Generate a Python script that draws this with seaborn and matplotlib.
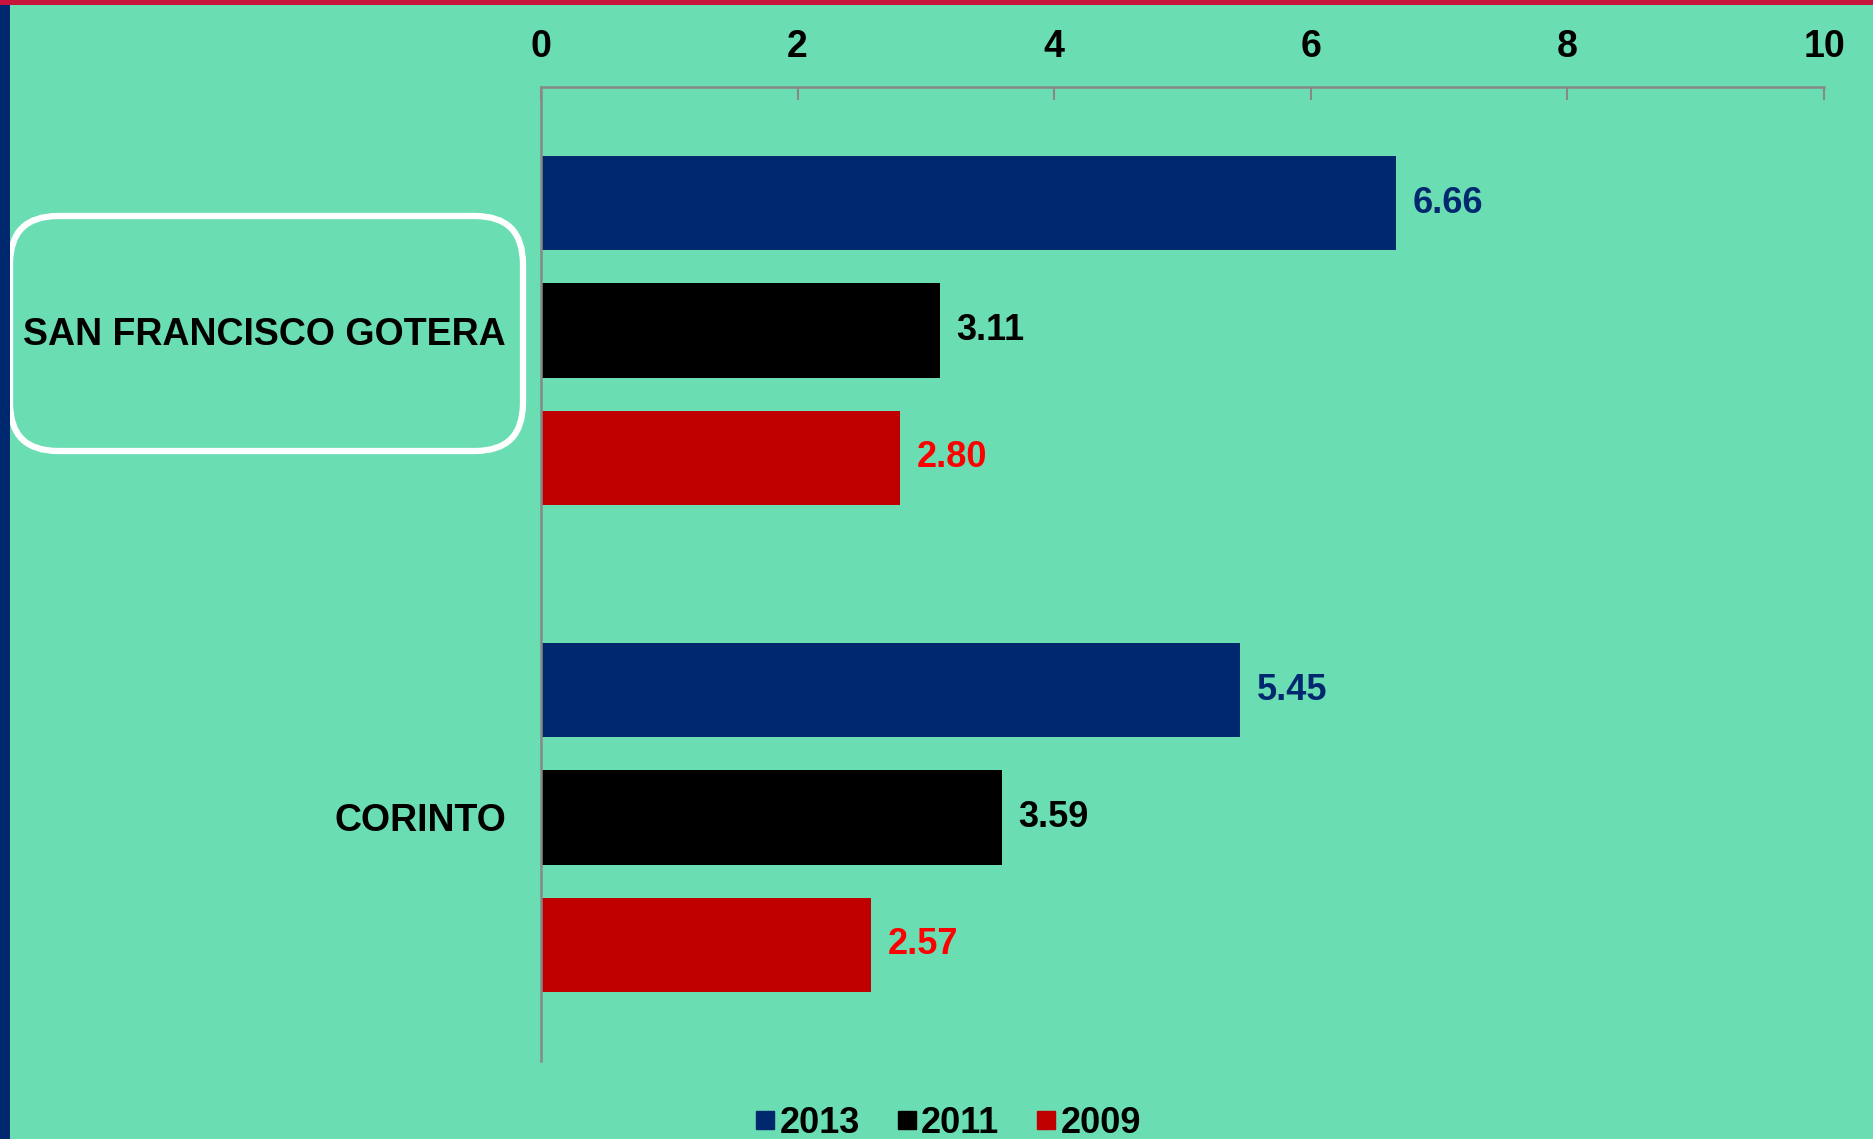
import matplotlib
matplotlib.use("Agg")
import matplotlib.pyplot as plt
import seaborn as sns
import pandas as pd
from matplotlib.patches import FancyBboxPatch, Rectangle
from matplotlib.lines import Line2D
from matplotlib.transforms import IdentityTransform

municipios = ["SAN FRANCISCO GOTERA", "CORINTO"]
anios = ["2013", "2011", "2009"]
valores_2013 = [6.66, 5.45]
valores_2011 = [3.11, 3.59]
valores_2009 = [2.80, 2.57]
x_ticks = [0, 2, 4, 6, 8, 10]

BG = "#6ADDB3"
NAVY = "#00286E"
BLACK = "#000000"
RED = "#C00000"
LABEL_COLORS = [NAVY, BLACK, "#FF0000"]

rows = []
for anio, vals in zip(anios, [valores_2013, valores_2011, valores_2009]):
    for m, v in zip(municipios, vals):
        rows.append({"municipio": m, "anio": anio, "valor": v})
df = pd.DataFrame(rows)

sns.set_theme(style="white")
plt.rcParams["font.family"] = ["Liberation Sans", "DejaVu Sans"]
plt.rcParams["font.weight"] = "bold"
plt.rcParams["text.color"] = "black"
plt.rcParams["xtick.color"] = "black"
plt.rcParams["ytick.color"] = "black"
plt.rcParams["xtick.labelcolor"] = "black"
plt.rcParams["ytick.labelcolor"] = "black"

fig = plt.figure(figsize=(18.73, 11.39), dpi=100, facecolor=BG)
ax = fig.add_axes([0.2888, 0.0685, 0.9739 - 0.2888, 0.9236 - 0.0685])
ax.set_facecolor(BG)

sns.barplot(data=df, y="municipio", x="valor", hue="anio", order=municipios,
            hue_order=anios, palette=[NAVY, BLACK, RED], orient="h",
            width=0.783, gap=0.26, saturation=1, legend=False, ax=ax,
            edgecolor="none", linewidth=0)

for cont, col in zip(ax.containers, LABEL_COLORS):
    ax.bar_label(cont, labels=[f"{v:.2f}" for v in cont.datavalues],
                 padding=12, color=col, fontsize=26, fontweight="bold")

ax.set_xlim(0, 10)
ax.set_ylim(1.5, -0.5)
ax.set_xticks(x_ticks)
ax.xaxis.tick_top()
ax.tick_params(axis="x", direction="in", length=9, width=1.5, color="#888888",
               labelcolor="black", pad=16, labelsize=27, top=True, bottom=False)
for lab in ax.get_xticklabels():
    lab.set_fontweight("bold")
ax.tick_params(axis="y", length=0, pad=25, labelsize=27, labelcolor="black")
for lab in ax.get_yticklabels():
    lab.set_fontweight("bold")
ax.set_xlabel("")
ax.set_ylabel("")
for s in ["right", "bottom"]:
    ax.spines[s].set_visible(False)
for s in ["top", "left"]:
    ax.spines[s].set_color("#888888")
    ax.spines[s].set_linewidth(1.8)
ax.grid(False)

# rounded box around first category label
box = FancyBboxPatch((10, 688), 513, 235, boxstyle="round,pad=0,rounding_size=48",
                     transform=IdentityTransform(), facecolor="none",
                     edgecolor="white", linewidth=4.5)
fig.add_artist(box)

# decorative strips
fig.add_artist(Rectangle((0, 0), 9.5 / 1873, 1, transform=fig.transFigure,
                         facecolor=NAVY, edgecolor="none"))
fig.add_artist(Rectangle((0, 1 - 5 / 1139), 1, 5 / 1139, transform=fig.transFigure,
                         facecolor="#C8143C", edgecolor="none"))

handles = [Line2D([0], [0], marker="s", linestyle="none", markersize=13,
                  markerfacecolor=c, markeredgecolor=c) for c in [NAVY, BLACK, RED]]
leg = fig.legend(handles, anios, loc="lower center", bbox_to_anchor=(0.506, -0.030),
                 ncol=3, frameon=False, handletextpad=0.1, columnspacing=1.0,
                 handlelength=0.6, prop={"size": 26, "weight": "bold"})
for t in leg.get_texts():
    t.set_color("black")

fig.savefig("out.png", dpi=100, facecolor=BG)
